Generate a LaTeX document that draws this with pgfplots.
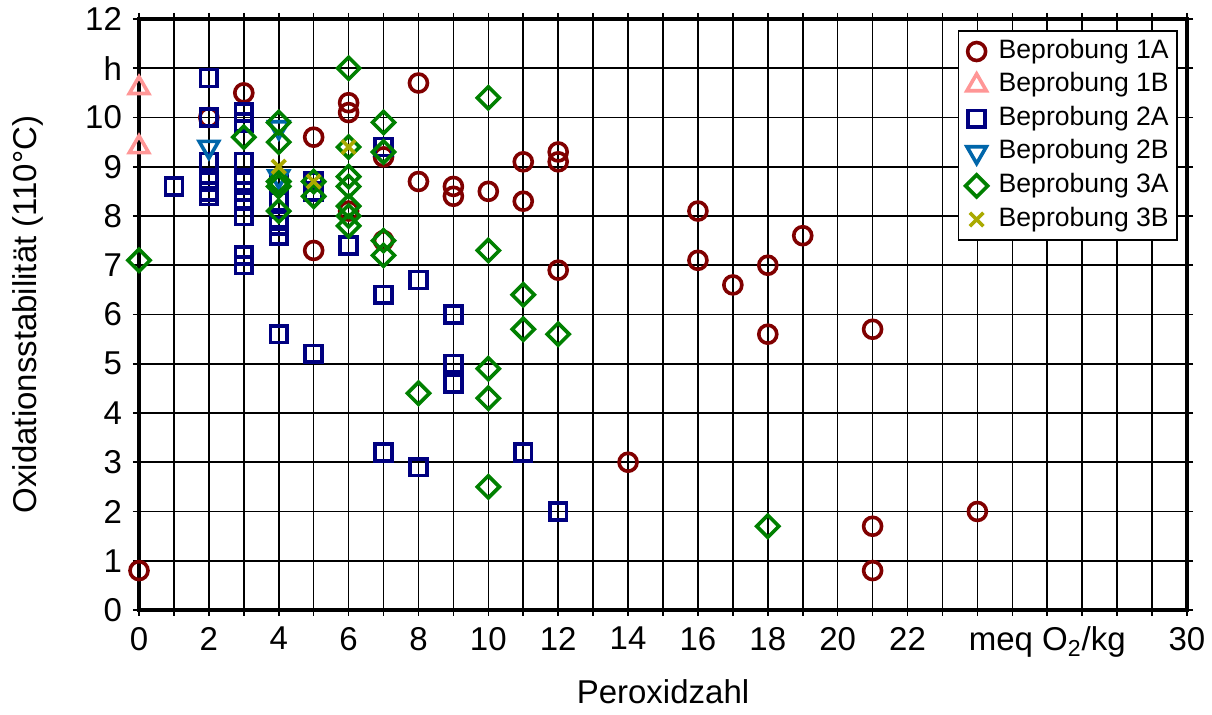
\documentclass[border=0pt]{standalone}
\usepackage{pgfplots}
\pgfplotsset{compat=1.18}
\usepackage{fontspec}
\setmainfont{Liberation Sans}
\definecolor{cA}{RGB}{128,0,0}
\definecolor{cB}{RGB}{255,150,150}
\definecolor{cC}{RGB}{0,0,128}
\definecolor{cD}{RGB}{0,102,170}
\definecolor{cE}{RGB}{0,128,0}
\definecolor{cF}{RGB}{170,170,0}
\pgfplotsset{myleg/.style={legend image code/.code={\draw[mark repeat=2,mark phase=2] plot coordinates {(0cm,0cm) (0.35cm,0cm) (0.5cm,0cm)};}}}
\begin{document}
\begin{tikzpicture}
\path[use as bounding box] (0,0) rectangle (606pt,357.5pt);
\begin{axis}[
  at={(69.5pt,52.5pt)}, anchor=south west,
  width=524pt, height=295.5pt, scale only axis,
  xmin=0, xmax=30, ymin=0, ymax=12,
  xtick={0,...,30},
  xticklabels={0,,2,,4,,6,,8,,10,,12,,14,,16,,18,,20,,22,,,,{meq O\textsubscript{2}/kg},,,,30},
  ytick={0,...,12},
  yticklabels={0,1,2,3,4,5,6,7,8,9,10,h,12},
  grid=major, grid style={black, line width=0.8pt},
  axis line style={line width=1.6pt},
  tick align=outside, major tick length=3pt, tick style={black, line width=0.8pt},
  ticklabel style={font=\fontsize{16.5}{18}\selectfont},
  xticklabel style={yshift=-2pt},
  yticklabel style={xshift=-2pt},
  xlabel={Peroxidzahl}, ylabel={Oxidationsstabilität (110°C)},
  label style={font=\fontsize{16.5}{18}\selectfont},
  xlabel style={at={(axis description cs:0.5,-0.139)}, anchor=center},
  ylabel style={at={(axis description cs:-0.106,0.5)}, anchor=center},
  legend style={at={(0.991,0.981)}, anchor=north east, draw=black, line width=0.8pt,
    font=\fontsize{13.3}{15}\selectfont, row sep=3.3pt, column sep=5pt, inner sep=3.5pt,
    nodes={inner sep=0.5pt, text height=9.5pt, text depth=3pt}},
  legend cell align=left,
]
\addplot[only marks, myleg, mark=o, mark size=4.5pt, line width=1.8pt, mark options={line width=1.8pt}, color=cA] coordinates {
(0,0.8) (2,10.0) (3,10.5) (5,9.6) (5,7.3) (6,10.3) (6,10.1) (6,8.1) (7,9.2) (7,7.5)
(8,10.7) (8,8.7) (9,8.6) (9,8.4) (10,8.5) (11,9.1) (11,8.3) (12,9.3) (12,9.1) (12,6.9)
(14,3.0) (16,8.1) (16,7.1) (17,6.6) (18,7.0) (18,5.6) (19,7.6) (21,5.7) (21,1.7) (21,0.8) (24,2.0)};
\addlegendentry{Beprobung 1A}
\addplot[only marks, myleg, mark=triangle, mark size=5.6pt, line width=1.8pt, mark options={line width=1.8pt}, color=cB] coordinates {
(0,10.6) (0,9.4)};
\addlegendentry{Beprobung 1B}
\addplot[only marks, myleg, mark=square, mark size=4.2pt, line width=1.8pt, mark options={line width=1.8pt}, color=cC] coordinates {
(1,8.6) (2,10.8) (2,10.0) (2,9.1) (2,8.7) (2,8.5) (2,8.4)
(3,10.1) (3,9.9) (3,9.1) (3,8.7) (3,8.5) (3,8.3) (3,8.0) (3,7.2) (3,7.0)
(4,8.7) (4,8.3) (4,7.9) (4,7.8) (4,7.6) (4,5.6) (5,8.7) (5,8.5) (5,5.2) (6,7.4)
(7,9.4) (7,6.4) (7,3.2) (8,6.7) (8,2.9) (9,6.0) (9,5.0) (9,4.6) (11,3.2) (12,2.0)};
\addlegendentry{Beprobung 2A}
\addplot[only marks, myleg, mark=triangle, mark size=5.6pt, line width=1.8pt, mark options={rotate=180, line width=1.8pt}, color=cD] coordinates {
(2,9.4) (4,9.8) (4,8.8)};
\addlegendentry{Beprobung 2B}
\addplot[only marks, myleg, mark=square, mark size=3.9pt, line width=1.8pt, mark options={rotate=45, line width=1.8pt}, color=cE] coordinates {
(0,7.1) (3,9.6) (4,9.9) (4,9.5) (4,8.7) (4,8.6) (4,8.1) (5,8.7) (5,8.4)
(6,11.0) (6,9.4) (6,8.8) (6,8.6) (6,8.2) (6,8.0) (6,7.8)
(7,9.9) (7,9.3) (7,7.5) (7,7.2) (8,4.4) (10,10.4) (10,7.3) (10,4.9) (10,4.3) (10,2.5)
(11,6.4) (11,5.7) (12,5.6) (18,1.7)};
\addlegendentry{Beprobung 3A}
\addplot[only marks, myleg, mark=x, mark size=4.8pt, line width=1.8pt, mark options={line width=1.8pt}, color=cF] coordinates {
(4,9.0) (5,8.7) (6,9.4)};
\addlegendentry{Beprobung 3B}
\end{axis}
\end{tikzpicture}
\end{document}
